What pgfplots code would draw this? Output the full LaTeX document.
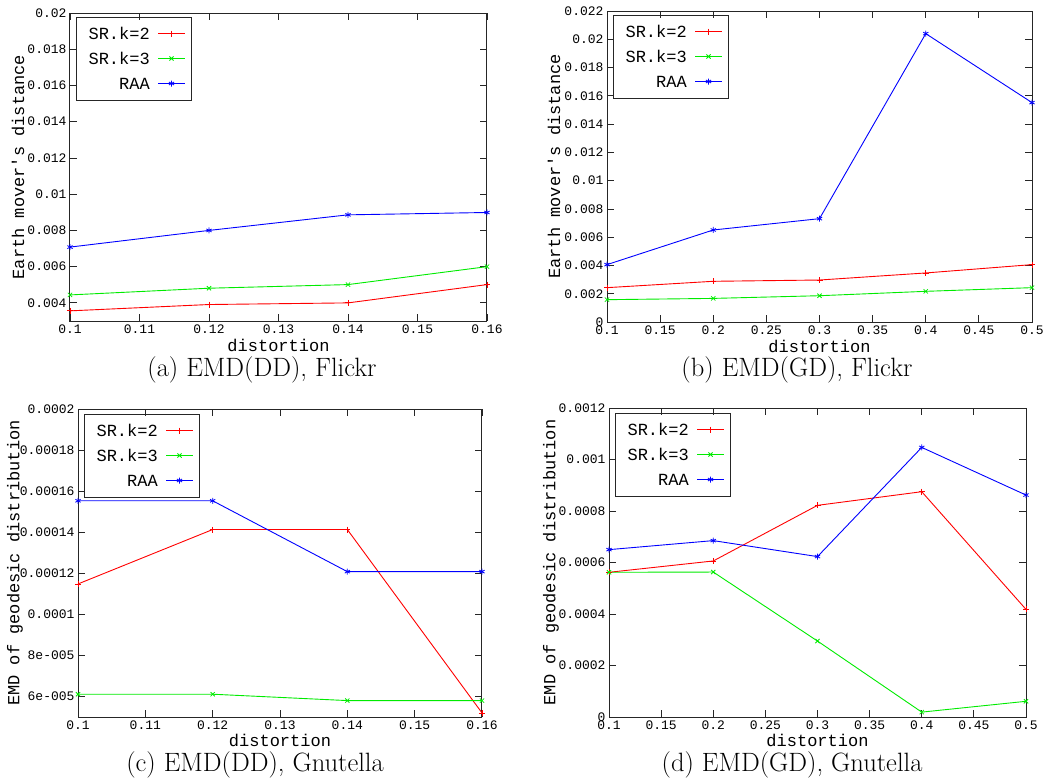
\documentclass[border=0pt]{standalone}
\usepackage{fontspec}
\usepackage{pgfplots}
\pgfplotsset{compat=1.18}
\newfontfamily\gp{Liberation Mono}
\definecolor{gpred}{RGB}{255,0,0}
\definecolor{gpgreen}{RGB}{0,235,0}
\definecolor{gpblue}{RGB}{0,0,255}
\definecolor{gpgray}{RGB}{38,38,38}
\pgfplotsset{
  gpaxis/.style={
    scale only axis,
    anchor=south west,
    axis line style={line width=1pt, draw=gpgray},
    tick style={line width=0.8pt, draw=gpgray},
    major tick length=7pt,
    tick align=inside,
    xtick pos=both, ytick pos=both,
    scaled ticks=false,
    clip=false,
    tick label style={font=\gp\fontsize{13}{13}\selectfont},
    label style={font=\gp\fontsize{17}{17}\selectfont},
    xlabel=distortion,
    every axis plot/.append style={line width=0.9pt, mark size=3pt},
  },
  sr2/.style={color=gpred, mark=+, mark options={solid, line width=0.8pt}},
  sr3/.style={color=gpgreen, mark=x, mark options={solid, line width=0.8pt}},
  raa/.style={color=gpblue, mark=asterisk, mark options={solid, line width=0.8pt}},
  lsr2/.style={draw=gpred, no marks, forget plot},
  lsr3/.style={draw=gpgreen, no marks, forget plot},
  lraa/.style={draw=gpblue, no marks, forget plot},
  msr2/.style={only marks, mark=+, mark options={solid, line width=0.8pt, draw=gpred}, forget plot},
  msr3/.style={only marks, mark=x, mark options={solid, line width=0.8pt, draw=gpgreen}, forget plot},
  mraa/.style={only marks, mark=asterisk, mark options={solid, line width=0.8pt, draw=gpblue}, forget plot},
}
\tikzset{legtext/.style={anchor=east, inner sep=0pt, font=\gp\fontsize{17}{17}\selectfont},
  legbox/.style={draw=gpgray, line width=1pt}}
\begin{document}
\begin{tikzpicture}
\path[use as bounding box] (0,0) rectangle (1055pt,-780pt);
% (a)
\begin{axis}[gpaxis, at={(70pt,-321pt)}, width=417pt, height=308pt,
  xmin=0.1, xmax=0.16, ymin=0.003, ymax=0.02,
  xtick={0.1,0.11,0.12,0.13,0.14,0.15,0.16},
  xticklabels={0.1,0.11,0.12,0.13,0.14,0.15,0.16},
  ytick={0.004,0.006,0.008,0.01,0.012,0.014,0.016,0.018,0.02},
  yticklabels={0.004,0.006,0.008,0.01,0.012,0.014,0.016,0.018,0.02},
  ylabel={Earth mover's distance},
  ylabel style={at={(axis description cs:-0.1247,0.5)}, anchor=center},
  xlabel style={at={(axis description cs:0.5,-0.078)}, anchor=center}]
\addplot[sr2] coordinates {(0.1,0.00356) (0.12,0.00391) (0.14,0.0040) (0.16,0.00501)};
\addplot[sr3] coordinates {(0.1,0.00444) (0.12,0.00481) (0.14,0.00501) (0.16,0.0060)};
\addplot[raa] coordinates {(0.1,0.00708) (0.12,0.0080) (0.14,0.00886) (0.16,0.00899)};
\end{axis}
% (b)
\begin{axis}[gpaxis, at={(607pt,-322pt)}, width=425pt, height=311pt,
  xmin=0.1, xmax=0.5, ymin=0, ymax=0.022,
  xtick={0.1,0.15,0.2,0.25,0.3,0.35,0.4,0.45,0.5},
  xticklabels={0.1,0.15,0.2,0.25,0.3,0.35,0.4,0.45,0.5},
  ytick={0,0.002,0.004,0.006,0.008,0.01,0.012,0.014,0.016,0.018,0.02,0.022},
  yticklabels={0,0.002,0.004,0.006,0.008,0.01,0.012,0.014,0.016,0.018,0.02,0.022},
  ylabel={Earth mover's distance},
  ylabel style={at={(axis description cs:-0.1247,0.5)}, anchor=center},
  xlabel style={at={(axis description cs:0.5,-0.077)}, anchor=center}]
\addplot[sr2] coordinates {(0.1,0.00243) (0.2,0.00288) (0.3,0.00297) (0.4,0.00347) (0.5,0.00406)};
\addplot[sr3] coordinates {(0.1,0.00158) (0.2,0.00167) (0.3,0.00186) (0.4,0.00217) (0.5,0.00243)};
\addplot[raa] coordinates {(0.1,0.00406) (0.2,0.00651) (0.3,0.00731) (0.4,0.0204) (0.5,0.01552)};
\end{axis}
% (c)
\begin{axis}[gpaxis, at={(78pt,-717pt)}, width=404pt, height=308pt,
  xmin=0.1, xmax=0.16, ymin=0.00005, ymax=0.0002,
  xtick={0.1,0.11,0.12,0.13,0.14,0.15,0.16},
  xticklabels={0.1,0.11,0.12,0.13,0.14,0.15,0.16},
  ytick={0.00006,0.00008,0.0001,0.00012,0.00014,0.00016,0.00018,0.0002},
  yticklabels={6e-005,8e-005,0.0001,0.00012,0.00014,0.00016,0.00018,0.0002},
  ylabel={EMD of geodesic distribution},
  ylabel style={at={(axis description cs:-0.156,0.5)}, anchor=center},
  xlabel style={at={(axis description cs:0.5,-0.075)}, anchor=center}]
\addplot[sr2] coordinates {(0.1,0.0001148) (0.12,0.0001413) (0.14,0.0001413) (0.16,0.000052)};
\addplot[sr3] coordinates {(0.1,0.0000611) (0.12,0.0000611) (0.14,0.000058) (0.16,0.000058)};
\addplot[raa] coordinates {(0.1,0.0001553) (0.12,0.0001553) (0.14,0.0001208) (0.16,0.0001208)};
\end{axis}
% (d)
\begin{axis}[gpaxis, at={(609pt,-717pt)}, width=417pt, height=309pt,
  xmin=0.1, xmax=0.5, ymin=0, ymax=0.0012,
  xtick={0.1,0.15,0.2,0.25,0.3,0.35,0.4,0.45,0.5},
  xticklabels={0.1,0.15,0.2,0.25,0.3,0.35,0.4,0.45,0.5},
  ytick={0,0.0002,0.0004,0.0006,0.0008,0.001,0.0012},
  yticklabels={0,0.0002,0.0004,0.0006,0.0008,0.001,0.0012},
  ylabel={EMD of geodesic distribution},
  ylabel style={at={(axis description cs:-0.139,0.5)}, anchor=center},
  xlabel style={at={(axis description cs:0.5,-0.075)}, anchor=center}]
\addplot[sr2] coordinates {(0.1,0.000562) (0.2,0.000606) (0.3,0.000822) (0.4,0.000875) (0.5,0.000418)};
\addplot[sr3] coordinates {(0.1,0.000562) (0.2,0.000563) (0.3,0.000295) (0.4,0.000019) (0.5,0.000061)};
\addplot[raa] coordinates {(0.1,0.00065) (0.2,0.000685) (0.3,0.000623) (0.4,0.001047) (0.5,0.000862)};
\end{axis}
% key samples: one hidden axis over the whole page, in pixel units
\begin{axis}[at={(0pt,-780pt)}, anchor=south west, scale only axis, width=1055pt, height=780pt,
  xmin=0, xmax=1055, ymin=0, ymax=780, hide axis, clip=false,
  every axis plot/.append style={line width=0.9pt, mark size=3pt}]
% (a)
\addplot[lsr2] coordinates {(158,746.5) (185,746.5)};
\addplot[lsr3] coordinates {(158,721.5) (185,721.5)};
\addplot[lraa] coordinates {(158,696.5) (185,696.5)};
\addplot[msr2] coordinates {(171.5,746.5)};
\addplot[msr3] coordinates {(171.5,721.5)};
\addplot[mraa] coordinates {(171.5,696.5)};
% (b)
\addplot[lsr2] coordinates {(695,748.5) (722,748.5)};
\addplot[lsr3] coordinates {(695,723.5) (722,723.5)};
\addplot[lraa] coordinates {(695,698.5) (722,698.5)};
\addplot[msr2] coordinates {(708.5,748.5)};
\addplot[msr3] coordinates {(708.5,723.5)};
\addplot[mraa] coordinates {(708.5,698.5)};
% (c)
\addplot[lsr2] coordinates {(166,349.5) (193,349.5)};
\addplot[lsr3] coordinates {(166,324.5) (193,324.5)};
\addplot[lraa] coordinates {(166,299.5) (193,299.5)};
\addplot[msr2] coordinates {(179.5,349.5)};
\addplot[msr3] coordinates {(179.5,324.5)};
\addplot[mraa] coordinates {(179.5,299.5)};
% (d)
\addplot[lsr2] coordinates {(697,350.5) (724,350.5)};
\addplot[lsr3] coordinates {(697,325.5) (724,325.5)};
\addplot[lraa] coordinates {(697,300.5) (724,300.5)};
\addplot[msr2] coordinates {(710.5,350.5)};
\addplot[msr3] coordinates {(710.5,325.5)};
\addplot[mraa] coordinates {(710.5,300.5)};
\end{axis}
\draw[legbox] (76pt,-17pt) rectangle (191pt,-100pt);
\node[legtext] at (150pt,-33.5pt) {SR.k=2};
\node[legtext] at (150pt,-58.5pt) {SR.k=3};
\node[legtext] at (150pt,-83.5pt) {RAA};
\draw[legbox] (613pt,-15pt) rectangle (728pt,-98pt);
\node[legtext] at (687pt,-31.5pt) {SR.k=2};
\node[legtext] at (687pt,-56.5pt) {SR.k=3};
\node[legtext] at (687pt,-81.5pt) {RAA};
\draw[legbox] (84pt,-414pt) rectangle (199pt,-497pt);
\node[legtext] at (158pt,-430.5pt) {SR.k=2};
\node[legtext] at (158pt,-455.5pt) {SR.k=3};
\node[legtext] at (158pt,-480.5pt) {RAA};
\draw[legbox] (615pt,-413pt) rectangle (730pt,-496pt);
\node[legtext] at (689pt,-429.5pt) {SR.k=2};
\node[legtext] at (689pt,-454.5pt) {SR.k=3};
\node[legtext] at (689pt,-479.5pt) {RAA};
\node[font=\fontsize{26.5}{30}\selectfont] at (262pt,-370pt) {(a) EMD(DD), Flickr};
\node[font=\fontsize{26.5}{30}\selectfont] at (797pt,-370pt) {(b) EMD(GD), Flickr};
\node[font=\fontsize{26.5}{30}\selectfont] at (255pt,-765pt) {(c) EMD(DD), Gnutella};
\node[font=\fontsize{26.5}{30}\selectfont] at (792pt,-765pt) {(d) EMD(GD), Gnutella};
\end{tikzpicture}
\end{document}
